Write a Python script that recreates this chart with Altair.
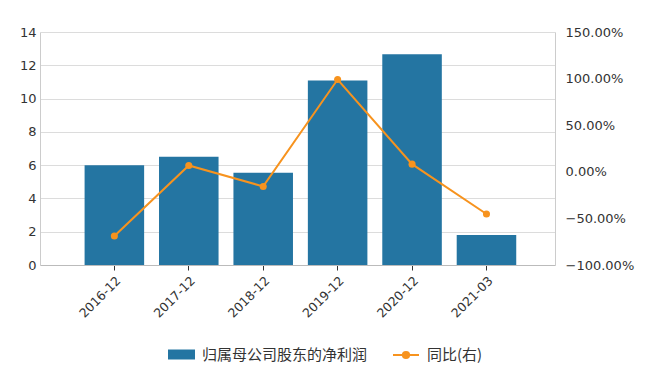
import altair as alt
import pandas as pd

dates = ["2016-12", "2017-12", "2018-12", "2019-12", "2020-12", "2021-03"]
profit = [6.0, 6.5, 5.55, 11.08, 12.66, 1.8]
yoy = [-68.9, 6.8, -15.7, 99.0, 8.2, -45.3]

bar_name = "归属母公司股东的净利润"
line_name = "同比(右)"
blue = "#2475a2"
orange = "#f7931e"

df = pd.DataFrame({"date": dates, "profit": profit, "yoy": yoy,
                   "s1": bar_name, "s2": line_name})

xscale = alt.Scale(paddingInner=0.2, paddingOuter=0.56, align=0.535)

xenc = alt.X("date:N", sort=dates, title=None, scale=xscale,
             axis=alt.Axis(labelAngle=-45, labelFontSize=12.5, labelColor="#333",
                           domainColor="#bbbbbb", tickColor="#333", tickSize=5,
                           labelPadding=4, grid=False))

bars = alt.Chart(df).mark_bar(color=blue).encode(
    x=xenc,
    y=alt.Y("profit:Q", title=None,
            scale=alt.Scale(domain=[0, 14], nice=False),
            axis=alt.Axis(values=[0, 2, 4, 6, 8, 10, 12, 14], labelFontSize=13,
                          labelColor="#333", ticks=False, domainColor="#cccccc",
                          gridColor="#dcdcdc", labelPadding=4, orient="left")),
    color=alt.Color("s1:N", scale=alt.Scale(domain=[bar_name], range=[blue]),
                    legend=alt.Legend(title=None, orient="none", legendX=128, legendY=309,
                                      symbolType="M-1,-0.37H1V0.37H-1Z", symbolSize=729,
                                      symbolStrokeWidth=0, labelOffset=7, labelLimit=0,
                                      labelFontSize=15, labelColor="#333",
                                      labelFont="Noto Sans CJK SC")),
)

yr = alt.Y("yoy:Q", title=None,
           scale=alt.Scale(domain=[-100, 150], nice=False),
           axis=alt.Axis(orient="right", values=[-100, -50, 0, 50, 100, 150],
                         labelExpr="format(datum.value, '.2f') + '%'",
                         labelFontSize=13, labelColor="#333", ticks=False,
                         domainColor="#cccccc", grid=False, labelPadding=10))

line = alt.Chart(df).mark_line(strokeWidth=2).encode(
    x=alt.X("date:N", sort=dates),
    y=yr,
    stroke=alt.Stroke("s2:N", scale=alt.Scale(domain=[line_name], range=[orange]),
                      legend=alt.Legend(title=None, orient="none", legendX=352, legendY=309,
                                        symbolType="M-1,0H1M0.24,0A0.24,0.24 0 1,1 -0.24,0A0.24,0.24 0 1,1 0.24,0Z",
                                        symbolSize=676, symbolStrokeWidth=2, labelLimit=0,
                                        symbolFillColor=orange, labelOffset=7,
                                        labelFontSize=15, labelColor="#333",
                                        labelFont="Noto Sans CJK SC")),
)

pts = alt.Chart(df).mark_circle(size=50, opacity=1, color=orange).encode(
    x=alt.X("date:N", sort=dates),
    y=alt.Y("yoy:Q", scale=alt.Scale(domain=[-100, 150], nice=False), axis=None),
)

chart = alt.layer(bars, line, pts).resolve_scale(
    y="independent", color="independent", stroke="independent"
).properties(
    width=515, height=233,
    autosize=alt.AutoSizeParams(type="none"),
    padding={"left": 32, "top": 24, "right": 85, "bottom": 109},
).configure_view(stroke=None).configure_axis(
    labelFont="DejaVu Sans"
)

chart.save("out.html", embed_options={"renderer": "svg", "actions": False})
